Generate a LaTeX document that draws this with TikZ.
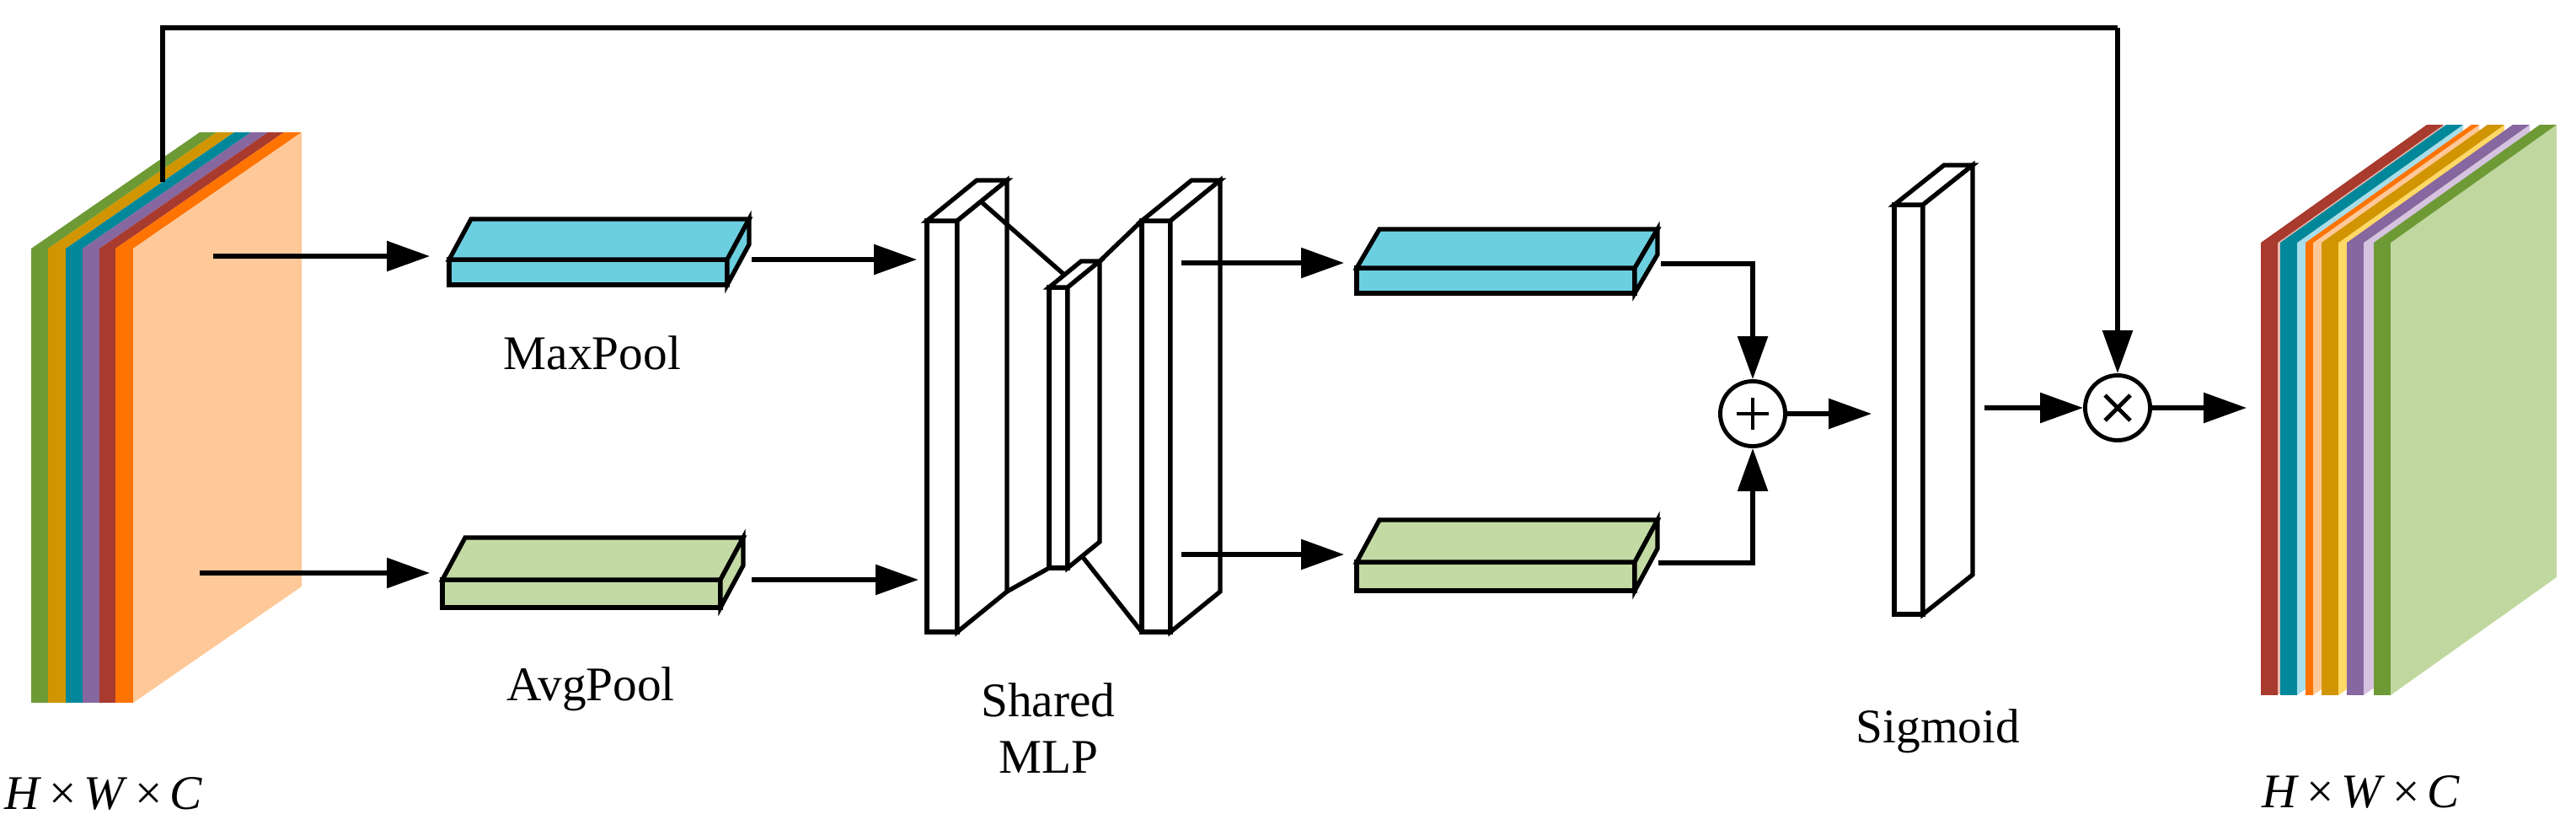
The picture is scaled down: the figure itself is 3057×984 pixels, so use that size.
\documentclass[tikz,border=0pt]{standalone}
\usepackage{fontspec}
\setmainfont{Liberation Serif}
\usetikzlibrary{arrows.meta}
\definecolor{cgreen}{RGB}{110,154,53}
\definecolor{cgold}{RGB}{208,149,0}
\definecolor{cteal}{RGB}{0,136,154}
\definecolor{cpurple}{RGB}{134,103,160}
\definecolor{cred}{RGB}{168,58,46}
\definecolor{corange}{RGB}{255,115,0}
\definecolor{cpeach}{RGB}{255,200,152}
\definecolor{clblue}{RGB}{168,221,234}
\definecolor{cyellow}{RGB}{255,217,102}
\definecolor{clav}{RGB}{213,195,224}
\definecolor{clgreen}{RGB}{192,216,160}
\definecolor{credl}{RGB}{232,185,175}
\definecolor{cyanbox}{RGB}{108,207,224}
\definecolor{greenbox}{RGB}{195,218,165}
\newcommand\drawcuboid[7]{%
  \filldraw[blk,fill=#7] (#1,#2) rectangle ({#1+#3},#4);
  \filldraw[blk,fill=#7] (#1,#2) -- ({#1+#3},#2) -- ({#1+#3+#5},{#2+(#6)}) -- ({#1+#5},{#2+(#6)}) -- cycle;
  \filldraw[blk,fill=#7] ({#1+#3},#2) -- ({#1+#3+#5},{#2+(#6)}) -- ({#1+#3+#5},{#4+(#6)}) -- ({#1+#3},#4) -- cycle;
}
\begin{document}
\begin{tikzpicture}[x=0.01cm,y=-0.01cm,
  blk/.style={draw=black,line width=1.5pt,line join=miter},
  ln/.style={draw=black,line width=1.5pt},
  arr/.style={ln,-{Triangle[length=14.5pt,width=10pt]}},
  lbl/.style={font=\fontsize{16.3pt}{19pt}\selectfont,inner sep=0pt,anchor=base},
  opc/.style={circle,draw=black,line width=1.4pt,minimum size=0.77cm,inner sep=0pt}]
\useasboundingbox (0,0) rectangle (3057,984);

% ---- input feature stack ----
\foreach \x/\w/\c in {37/20/cgreen,57/21/cgold,78/20/cteal,98/20/cpurple,118/19/cred,137/21/corange}{
  \fill[\c] (\x,295) -- ++(\w,0) -- ++(200,-138) -- ++(-\w,0) -- cycle;
  \fill[\c] (\x,295) rectangle ++(\w,539);
}
\fill[cpeach] (158,295) -- (358,157) -- (358,696) -- (158,834) -- cycle;
\node[lbl] (inlbl) at (123,960) {\textit{H}\hspace{2.5pt}×\hspace{2.5pt}\textit{W}\hspace{2.5pt}×\hspace{2.5pt}\textit{C}};

% ---- output feature stack ----
\foreach \x/\w/\c/\s in {2683/20/cred/credl,2706/20/cteal/clblue,2736/9/corange/cpeach,2755/20/cgold/cyellow,2785/20/cpurple/clav,2817/20/cgreen/clgreen}{
  \fill[\s] ({\x+\w},288) -- ++(197,-140) -- ++(0,537) -- ++(-197,140) -- cycle;
  \fill[\c] (\x,288) -- ++(\w,0) -- ++(197,-140) -- ++(-\w,0) -- cycle;
  \fill[\c] (\x,288) rectangle ++(\w,537);
}
\node[lbl] (outlbl) at (2802,958) {\textit{H}\hspace{2.5pt}×\hspace{2.5pt}\textit{W}\hspace{2.5pt}×\hspace{2.5pt}\textit{C}};

% ---- pooling boxes ----
\drawcuboid{533}{308}{330}{338}{26}{-48}{cyanbox}
\drawcuboid{525}{688}{330}{721}{27}{-50}{greenbox}
\node[lbl] (maxlbl) at (703,438) {MaxPool};
\node[lbl] (avglbl) at (701,831) {AvgPool};

% ---- shared MLP ----
\drawcuboid{1100}{262}{36}{750}{59}{-48}{white}
\drawcuboid{1245}{341}{22}{674}{38}{-31}{white}
\drawcuboid{1355}{262}{34}{750}{59}{-48}{white}
\coordinate (m1a) at (1165,240);
\coordinate (m2a) at (1263,326);
\coordinate (m1b) at (1195,702);
\coordinate (m2b) at (1245,674);
\coordinate (m2c) at (1305,310);
\coordinate (m3c) at (1355,262);
\coordinate (m2d) at (1284,660);
\coordinate (m3d) at (1355,750);
\draw[ln] (m1a) -- (m2a);
\draw[ln] (m1b) -- (m2b);
\draw[ln] (m2c) -- (m3c);
\draw[ln] (m2d) -- (m3d);
\node[lbl] (sh1) at (1244,850) {Shared};
\node[lbl] (sh2) at (1244,917) {MLP};

% ---- output of MLP boxes ----
\drawcuboid{1610}{318}{330}{348}{27}{-46}{cyanbox}
\drawcuboid{1610}{667}{330}{701}{27}{-50}{greenbox}

% ---- sigmoid ----
\drawcuboid{2248}{243}{34}{729}{59}{-47}{white}
\node[lbl] (siglbl) at (2300,881) {Sigmoid};

% ---- operators ----
\node[opc] (plus) at (2080,491) {};
\draw[line width=1.4pt] (plus.center) ++(-19,0) -- ++(38,0);
\draw[line width=1.4pt] (plus.center) ++(0,-19) -- ++(0,38);
\node[opc] (times) at (2513,484) {};
\draw[line width=1.4pt] (times.center) ++(-15,-15) -- ++(30,30);
\draw[line width=1.4pt] (times.center) ++(-15,15) -- ++(30,-30);

% ---- connectors ----
\coordinate (inA) at (253,304);   \coordinate (maxIn) at (510,304);
\coordinate (inB) at (237,680);   \coordinate (avgIn) at (510,680);
\draw[arr] (inA) -- (maxIn);
\draw[arr] (inB) -- (avgIn);
\coordinate (maxOut) at (892,308); \coordinate (mlpInA) at (1088,308);
\coordinate (avgOut) at (892,688); \coordinate (mlpInB) at (1090,688);
\draw[arr] (maxOut) -- (mlpInA);
\draw[arr] (avgOut) -- (mlpInB);
\coordinate (mlpOutA) at (1402,312); \coordinate (boxInA) at (1595,312);
\coordinate (mlpOutB) at (1402,658); \coordinate (boxInB) at (1595,658);
\draw[arr] (mlpOutA) -- (boxInA);
\draw[arr] (mlpOutB) -- (boxInB);
\coordinate (boxOutA) at (1971,313);
\coordinate (boxOutB) at (1968,668);
\draw[arr] (boxOutA) -| (plus.north);
\draw[arr] (boxOutB) -| (plus.south);
\coordinate (sigIn) at (2221,491);
\draw[arr] (plus.east) -- (sigIn);
\coordinate (sigOut) at (2355,484);
\draw[arr] (sigOut) -- (times.west);
\coordinate (outIn) at (2666,484);
\draw[arr] (times.east) -- (outIn);
\coordinate (skipS) at (193,216);
\coordinate (skipT) at (2513,33);
\draw[ln,line join=miter] (skipS) |- (skipT);
\draw[arr] (skipT) -- (times.north);
\end{tikzpicture}
\end{document}
